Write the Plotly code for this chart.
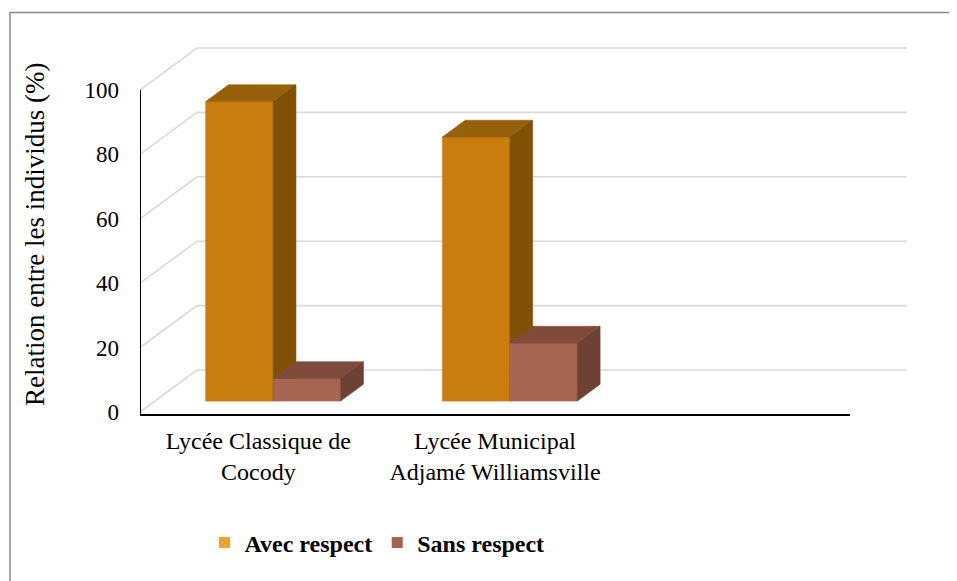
import plotly.graph_objects as go

# ---- data ----
categories = ["Lycée Classique de<br>Cocody", "Lycée Municipal<br>Adjamé Williamsville", ""]
series_names = ["Avec respect", "Sans respect"]
avec_respect = [93, 82]
sans_respect = [7, 18]
y_ticks = [0, 20, 40, 60, 80, 100]

# ---- styling / geometry ----
OFF = 8  # page body margin
W, H = 957, 581
ML, MR, MT = 140 - OFF, 49 + OFF, 40 - OFF
MB = H - (420 - OFF)
PW, PH = W - ML - MR, H - MT - MB
XR = [-0.5, -0.5 + PW / 236.67]
YR = [-(420 - 412) / 3.22, (412 - 40) / 3.22]
DX = 57 / 236.67     # full depth shift in x units
DY = 42 / 3.22       # full depth shift in y units
D0, D1 = 0.26, 0.66  # bar depth span
BW = 0.285           # bar width
front_cols = ["#C97D0E", "#A66550"]
top_cols = ["#97600A", "#7F4C3C"]
side_cols = ["#7F5006", "#6D4133"]
legend_cols = ["#F0A22E", "#A5634E"]
FONT = "Liberation Serif, Times New Roman, serif"
grid_col = "#D9D9D9"


def proj(x, y, d):
    return x + d * DX, y + d * DY


def poly(pts, color):
    xs, ys = zip(*[proj(*p) for p in pts])
    xs = list(xs) + [xs[0]]
    ys = list(ys) + [ys[0]]
    return go.Scatter(x=xs, y=ys, mode="lines", fill="toself", fillcolor=color,
                      line=dict(color=color, width=0.6), hoverinfo="skip",
                      showlegend=False)


fig = go.Figure()

# back wall gridlines with diagonal side wall
n_slots = len(categories)
x_front_left, x_front_right = -0.5, n_slots - 0.5
for v in y_ticks:
    p0 = proj(x_front_left, v, 0)
    p1 = proj(x_front_left, v, 1)
    p2 = proj(x_front_right, v, 1)
    fig.add_trace(go.Scatter(x=[p0[0], p1[0], p2[0]], y=[p0[1], p1[1], p2[1]],
                             mode="lines", line=dict(color=grid_col, width=1.6),
                             hoverinfo="skip", showlegend=False))

# 3D bars
series = [avec_respect, sans_respect]
for i in range(len(avec_respect)):
    for s, vals in enumerate(series):
        v = vals[i]
        xl = i - BW + s * BW
        xr = xl + BW
        fig.add_trace(poly([(xl, 0, D0), (xr, 0, D0), (xr, v, D0), (xl, v, D0)], front_cols[s]))
        fig.add_trace(poly([(xl, v, D0), (xr, v, D0), (xr, v, D1), (xl, v, D1)], top_cols[s]))
        fig.add_trace(poly([(xr, 0, D0), (xr, 0, D1), (xr, v, D1), (xr, v, D0)], side_cols[s]))

# legend entries
for s, name in enumerate(series_names):
    fig.add_trace(go.Scatter(x=[None], y=[None], mode="markers", name=f"<b>{name}</b>",
                             marker=dict(symbol="square", size=11, color=legend_cols[s])))

# axis lines (front)
AXY = -0.9
fig.add_shape(type="line", xref="x", yref="y", x0=x_front_left, x1=x_front_left,
              y0=AXY, y1=100, line=dict(color="#000000", width=2))
fig.add_shape(type="line", xref="x", yref="y", x0=x_front_left, x1=x_front_right,
              y0=AXY, y1=AXY, line=dict(color="#000000", width=2))


def px_x(p):
    return (p - OFF - ML) / PW


def px_y(p):
    return (H - MB - (p - OFF)) / PH


# outer border
fig.add_shape(type="rect", xref="paper", yref="paper",
              x0=px_x(10), x1=px_x(W + 20), y0=px_y(H + 20), y1=px_y(12.5),
              line=dict(color="#8C8C8C", width=1.5), fillcolor="rgba(0,0,0,0)", layer="below")

# y title
fig.add_annotation(text="Relation entre les individus (%)", textangle=-90,
                   xref="paper", yref="paper", x=px_x(35), y=px_y(235),
                   xanchor="center", yanchor="middle", showarrow=False,
                   font=dict(family=FONT, size=27, color="#000000"))

fig.update_layout(
    width=W, height=H,
    margin=dict(l=ML, r=MR, t=MT, b=MB),
    paper_bgcolor="white", plot_bgcolor="white",
    showlegend=True,
    font=dict(family=FONT),
    legend=dict(orientation="h", x=px_x(377), y=px_y(543), xanchor="center", yanchor="middle",
                font=dict(family=FONT, size=24, color="#000000"), itemwidth=30),
    xaxis=dict(range=XR, showgrid=False, zeroline=False, showline=False,
               tickmode="array", tickvals=list(range(n_slots)), ticktext=categories,
               ticks="", ticklabelstandoff=4,
               tickfont=dict(family=FONT, size=24, color="#000000")),
    yaxis=dict(range=YR, showgrid=False, zeroline=False, showline=False,
               tickmode="array", tickvals=y_ticks, ticktext=[str(t) for t in y_ticks],
               ticks="", ticklabelstandoff=20,
               tickfont=dict(family=FONT, size=23, color="#000000")),
)

fig.write_html("out.html")
